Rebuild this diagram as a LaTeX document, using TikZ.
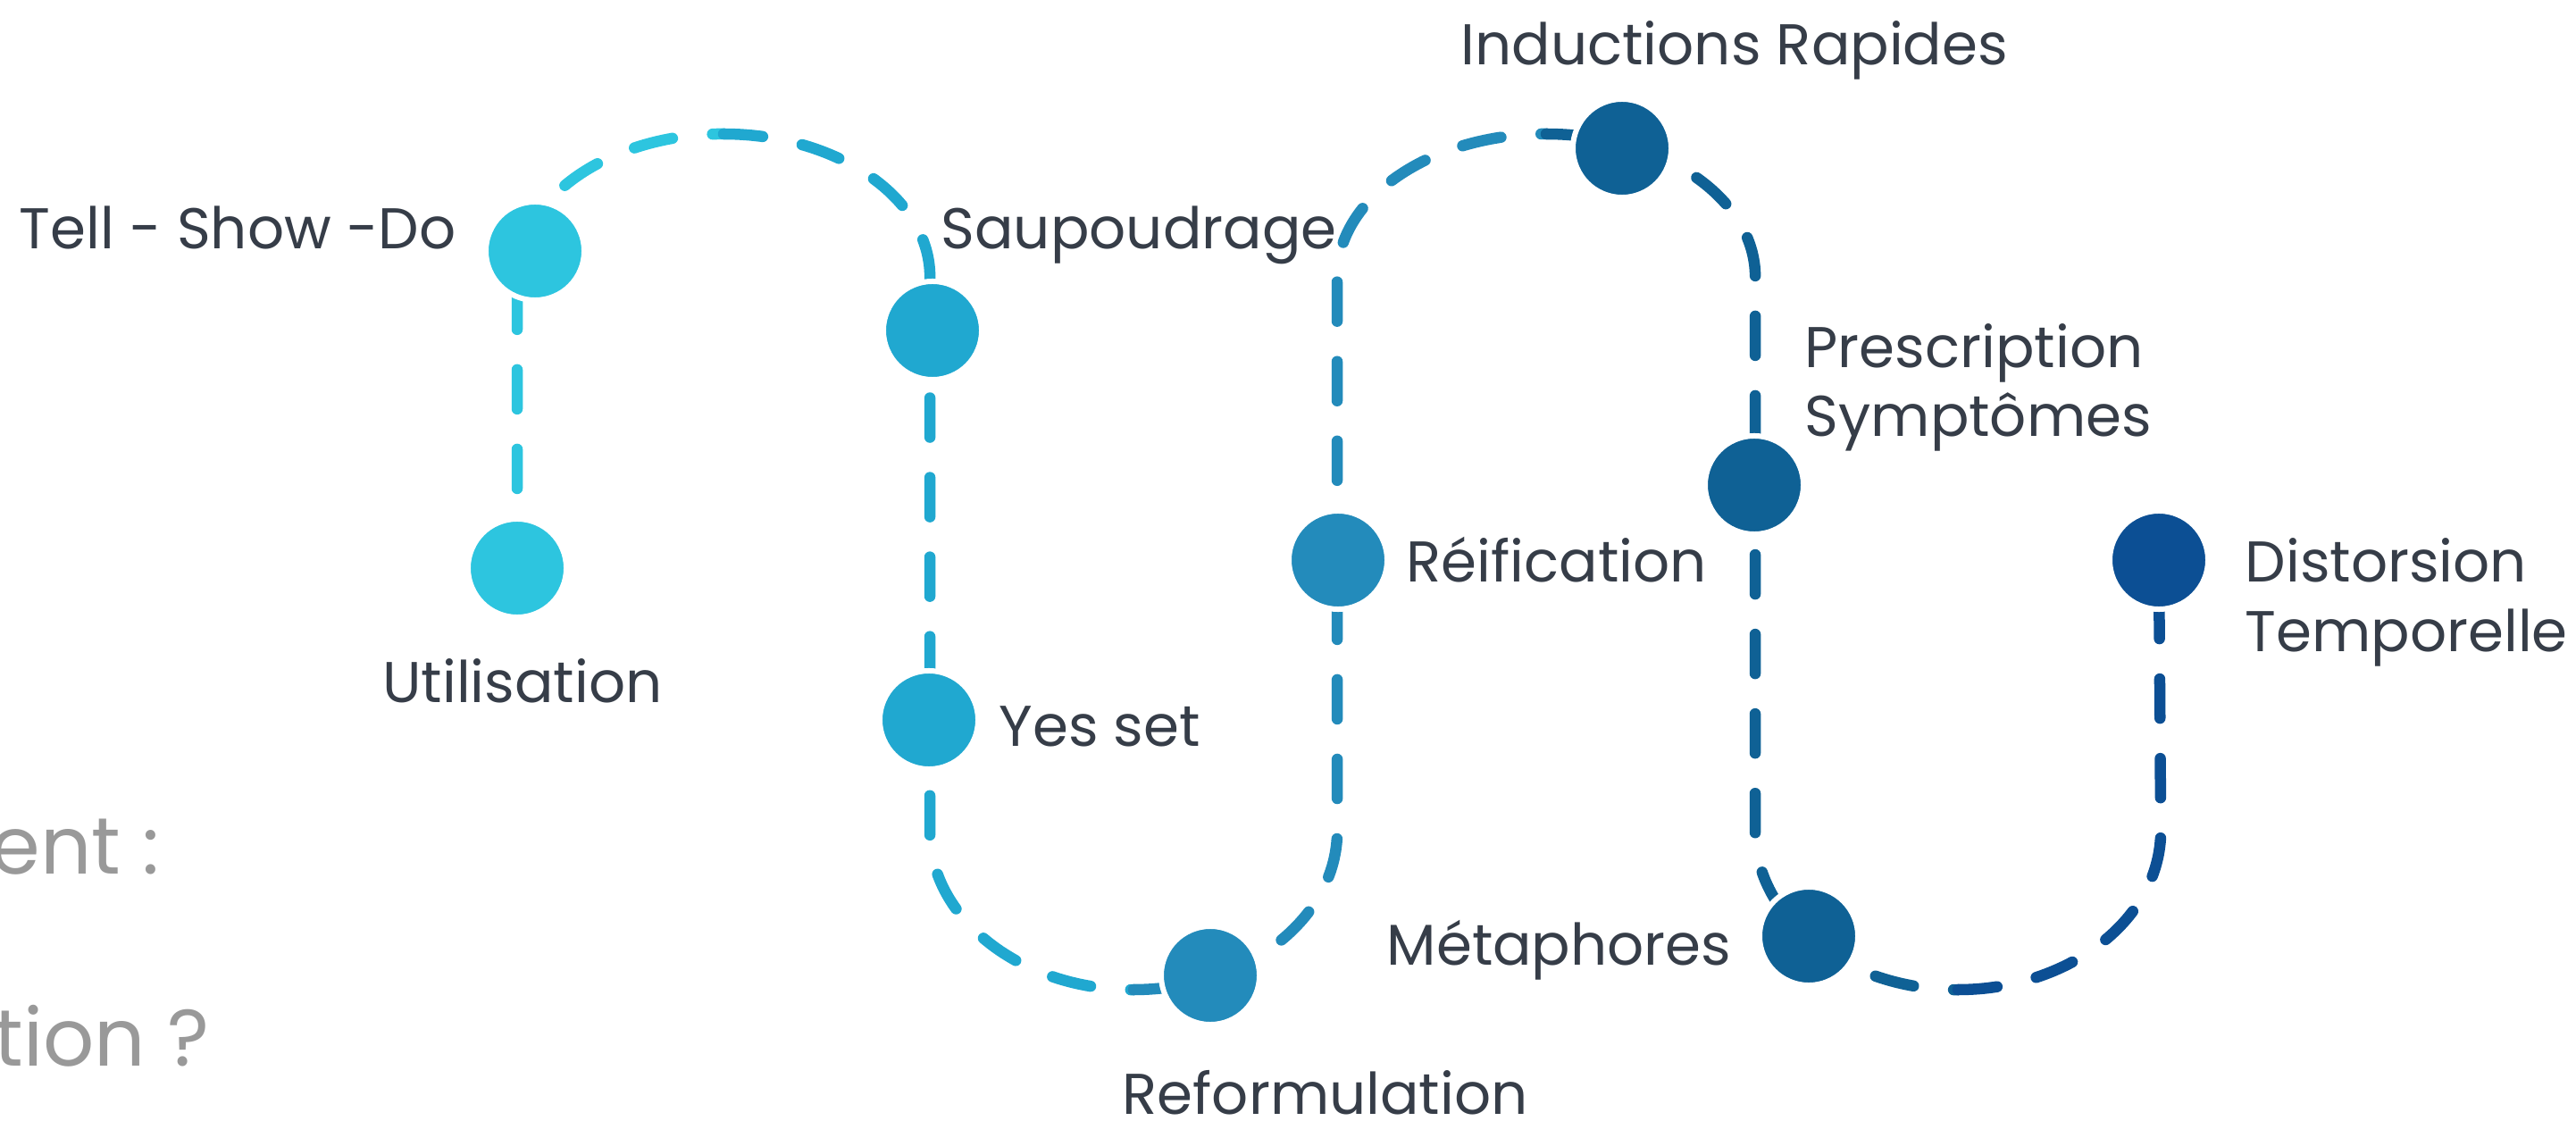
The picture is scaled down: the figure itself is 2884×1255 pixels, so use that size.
\documentclass[tikz,border=0pt]{standalone}
\usepackage{fontspec}
\setmainfont{Poppins}
\definecolor{cA}{HTML}{2DC5DF}
\definecolor{cB}{HTML}{20A8D0}
\definecolor{cC}{HTML}{238BBB}
\definecolor{cD}{HTML}{0F6195}
\definecolor{cE}{HTML}{0C4F94}
\definecolor{txt}{HTML}{363D48}
\definecolor{gry}{HTML}{999999}
\pgfdeclarelayer{bg}
\pgfsetlayers{bg,main}
\begin{document}
\begin{tikzpicture}[x=0.01cm,y=0.01cm,
  dot/.style={circle,minimum size=1.1cm,inner sep=0pt,draw=white,line width=0.06cm},
  trail/.style={line width=0.125cm,line cap=round,dash pattern=on 0.44cm off 0.45cm},
  lab/.style={text=txt,inner sep=0pt,font=\fontsize{18.3}{21.9}\selectfont,align=left},
  side/.style={text=gry,inner sep=0pt,font=\fontsize{25.5}{30}\selectfont}]
\useasboundingbox (0,0) rectangle (2884,-1255);
\clip (0,0) rectangle (2884,-1255);
% dots
\node[dot,fill=cA] (util)   at (579,-636)  {};
\node[dot,fill=cA] (tsd)    at (599,-281)  {};
\node[dot,fill=cB] (saup)   at (1044,-370) {};
\node[dot,fill=cB] (yes)    at (1040,-806) {};
\node[dot,fill=cC] (reform) at (1355,-1092) {};
\node[dot,fill=cC] (reif)   at (1498,-627) {};
\node[dot,fill=cD] (induc)  at (1816,-166) {};
\node[dot,fill=cD] (presc)  at (1964,-543) {};
\node[dot,fill=cD] (meta)   at (2025,-1048) {};
\node[dot,fill=cE] (dist)   at (2417,-627) {};
% turning points
\coordinate (t1) at (810,-150);
\coordinate (b1) at (1269,-1108);
\coordinate (t2) at (1731,-150);
\coordinate (b2) at (2192,-1108);
\begin{pgfonlayer}{bg}
\draw[trail,cA] (util.center) -- (579,-310) arc[start angle=180,end angle=90,x radius=2.31cm,y radius=1.6cm];
\draw[trail,cB] (t1) arc[start angle=90,end angle=0,x radius=2.31cm,y radius=1.6cm] -- (1041,-930) arc[start angle=180,end angle=270,x radius=2.28cm,y radius=1.78cm];
\draw[trail,cC] (b1) arc[start angle=270,end angle=360,x radius=2.28cm,y radius=1.78cm] -- (1497,-310) arc[start angle=180,end angle=90,x radius=2.34cm,y radius=1.6cm];
\draw[trail,cD] (t2) arc[start angle=90,end angle=0,x radius=2.34cm,y radius=1.6cm] -- (1965,-930) arc[start angle=180,end angle=270,x radius=2.27cm,y radius=1.78cm];
\draw[trail,cE] (b2) arc[start angle=270,end angle=360,x radius=2.27cm,y radius=1.78cm] -- (dist.center);
\end{pgfonlayer}
% labels
\node[lab,anchor=base east] (ltsd) at (511,-279) {Tell - Show -Do};
\node[lab,anchor=base] (lutil) at (585,-786) {Utilisation};
\node[lab,anchor=base west] (lsaup) at (1053,-279) {Saupoudrage};
\node[lab,anchor=base west] (lyes) at (1118,-835) {Yes set};
\node[lab,anchor=base west] (lref) at (1256,-1247) {Reformulation};
\node[lab,anchor=base west] (lreif) at (1574,-652) {Réification};
\node[lab,anchor=base west] (lind) at (1635,-73) {Inductions Rapides};
\node[lab,anchor=base west] (lpre) at (2020,-489) {Prescription\\Symptômes};
\node[lab,anchor=base east] (lmeta) at (1939,-1080) {Métaphores};
\node[lab,anchor=base west] (ldist) at (2513,-729) {Distorsion\\Temporelle};
\node[side,anchor=base east] (s1) at (179,-978) {ment :};
\node[side,anchor=base east] (s2) at (235,-1193) {ation ?};
\end{tikzpicture}
\end{document}
